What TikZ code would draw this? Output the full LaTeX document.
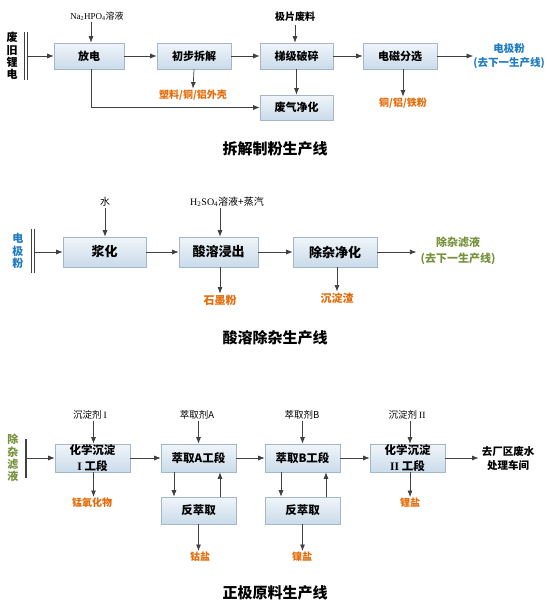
\documentclass[tikz,border=0pt]{standalone}
\usepackage{fontspec}
\setmainfont{Noto Sans CJK SC}
\newfontfamily\tms{Liberation Serif}
\usetikzlibrary{arrows.meta,shadows}
\definecolor{bord}{HTML}{A3B6CA}
\definecolor{topc}{HTML}{F0F5FA}
\definecolor{botc}{HTML}{CADBEA}
\definecolor{org}{HTML}{E46C0A}
\definecolor{blu}{HTML}{1F7CC1}
\definecolor{grn}{HTML}{76923C}
\definecolor{arc}{HTML}{404040}
\begin{document}
\begin{tikzpicture}[x=1pt,y=-1pt,
  box/.style={draw=bord, line width=0.6pt, top color=topc, bottom color=botc,
    inner sep=0pt, minimum height=26pt, align=center,
    font=\fontsize{11}{12}\selectfont\bfseries,
    drop shadow={shadow xshift=1.2pt, shadow yshift=-1.2pt, opacity=0.25, fill=black!60}},
  boxtwo/.style={box, minimum height=30pt, font=\fontsize{13}{14}\selectfont\bfseries},
  boxthree/.style={box, minimum width=75pt, minimum height=28pt, font=\fontsize{11.5}{15.5}\selectfont\bfseries},
  lbl/.style={inner sep=1pt, font=\fontsize{9}{10}\selectfont},
  lblb/.style={inner sep=1pt, font=\fontsize{10}{11}\selectfont\bfseries},
  prod/.style={inner sep=1pt, text=org, font=\fontsize{10}{11}\selectfont\bfseries},
  prodtwo/.style={prod, font=\fontsize{11}{12}\selectfont\bfseries},
  vtext/.style={inner sep=0pt, align=center, font=\fontsize{11}{12.3}\selectfont\bfseries},
  sidelbl/.style={inner sep=1pt, align=center, font=\fontsize{10.5}{14}\selectfont\bfseries},
  ttl/.style={inner sep=1pt, font=\fontsize{15}{16}\selectfont\bfseries},
  arr/.style={draw=arc, line width=0.7pt, -{Latex[length=6.5pt,width=5pt]}},
  bar/.style={draw=arc, line width=0.8pt}
]
\useasboundingbox[fill=white] (0,0) rectangle (547,606);

% ---------- Section 1 ----------
\node[vtext] (s1) at (12,56) {废\\旧\\锂\\电};
\draw[bar] (24,32) -- (24,80);
\draw[bar] (27,32) -- (27,80);
\coordinate (b1) at (27,56);

\node[box, minimum width=70pt] (fd) at (89,56) {放电};
\node[box, minimum width=74pt] (cb) at (194,56) {初步拆解};
\node[box, minimum width=73pt] (tj) at (296.5,56) {梯级破碎};
\node[box, minimum width=73pt, minimum height=25pt] (fq) at (296.5,107.5) {废气净化};
\node[box, minimum width=74pt] (dc) at (400,56) {电磁分选};

\node[lbl] (na) at (97,16) {{\tms Na\textsubscript{2}HPO\textsubscript{4}}溶液};
\node[lblb] (jp) at (295,17) {极片废料};
\node[prod] (sl) at (193,95) {塑料/铜/铝外壳};
\node[prod] (tl) at (403,103) {铜/铝/铁粉};
\node[sidelbl, text=blu] (djf) at (509,56) {电极粉\\(去下一生产线)};
\node[ttl] (t1) at (275,149) {拆解制粉生产线};

\draw[arr] (b1) -- (fd);
\draw[arr] ([xshift=2pt]fd.north |- na.south) -- ([xshift=2pt]fd.north);
\draw[arr] (fd) -- (cb);
\draw[arr] (cb) -- (tj);
\draw[arr] (tj) -- (dc);
\draw[arr] (tj.north -| jp) ++(0,-18) -- (tj.north -| jp);
\draw[arr] (cb.south) -- (sl.north);
\draw[arr] (tj.south) -- (fq.north);
\draw[arr] (dc.south -| tl) -- (tl.north);
\draw[arr] ([xshift=2pt]fd.south) |- (fq.west);
\draw[arr] (dc.east) -- ([xshift=1pt]dc.east -| djf.west);

% ---------- Section 2 ----------
\node[vtext, text=blu] (s2) at (18,251) {电\\极\\粉};
\draw[bar] (31,229) -- (31,273);
\draw[bar] (34,229) -- (34,273);
\coordinate (b2) at (34,252);

\node[boxtwo, minimum width=83pt] (jh) at (104.5,252) {浆化};
\node[boxtwo, minimum width=79pt] (sr) at (218.5,252) {酸溶浸出};
\node[boxtwo, minimum width=84pt] (cz) at (335,252) {除杂净化};

\node[lbl, font=\fontsize{10}{11}\selectfont] (water) at (105,202) {水};
\node[lbl, font=\fontsize{10}{11}\selectfont] (h2) at (227,202) {{\tms H\textsubscript{2}SO\textsubscript{4}}溶液+蒸汽};
\node[prodtwo] (sm) at (220,300) {石墨粉};
\node[prodtwo] (cdz) at (337,298) {沉淀渣};
\node[sidelbl, text=grn, font=\fontsize{11}{16}\selectfont\bfseries] (czl) at (458,251) {除杂滤液\\(去下一生产线)};
\node[ttl] (t2) at (275,338) {酸溶除杂生产线};

\draw[arr] (b2) -- (jh);
\draw[arr] (water.south) -- (water.south |- jh.north);
\draw[arr] ([xshift=1.5pt]sr.north |- h2.south) -- ([xshift=1.5pt]sr.north);
\draw[arr] (jh) -- (sr);
\draw[arr] (sr) -- (cz);
\draw[arr] (sr.south -| sm) -- (sm.north);
\draw[arr] (cz.south -| cdz) -- (cdz.north);
\draw[arr] (cz.east) -- ([xshift=-3pt]cz.east -| czl.west);

% ---------- Section 3 ----------
\node[vtext, text=grn] (s3) at (13,458) {除\\杂\\滤\\液};
\draw[draw=arc, line width=2.2pt] (26,439) -- (26,478);
\coordinate (b3) at (27,458);

\node[boxthree] (hx1) at (92.5,458) {化学沉淀\\{\tms I} 工段};
\node[boxthree] (exA) at (198.5,458) {萃取A工段};
\node[boxthree] (exB) at (302.5,458) {萃取B工段};
\node[boxthree] (hx2) at (407.5,458) {化学沉淀\\{\tms II} 工段};
\node[boxthree, minimum height=27pt] (reA) at (198.5,510.5) {反萃取};
\node[boxthree, minimum height=27pt] (reB) at (302.5,510.5) {反萃取};

\node[lbl, font=\fontsize{9.5}{10}\selectfont] (cd1) at (90,415) {沉淀剂 {\tms I}};
\node[lbl, font=\fontsize{9.5}{10}\selectfont] (cqA) at (197,415) {萃取剂A};
\node[lbl, font=\fontsize{9.5}{10}\selectfont] (cqB) at (302,415) {萃取剂B};
\node[lbl, font=\fontsize{9.5}{10}\selectfont] (cd2) at (407,415) {沉淀剂 {\tms II}};

\node[prod] (mn) at (92,503) {锰氧化物};
\node[prod] (co) at (200,557) {钴盐};
\node[prod] (ni) at (302,557) {镍盐};
\node[prod] (li) at (410,503) {锂盐};
\node[sidelbl] (fs) at (508,458) {去厂区废水\\处理车间};
\node[ttl] (t3) at (275,593) {正极原料生产线};

\draw[arr] (b3) -- (hx1);
\draw[arr] (hx1) -- (exA);
\draw[arr] (exA) -- (exB);
\draw[arr] (exB) -- (hx2);
\draw[arr] (hx2.east) -- ([xshift=-2pt]hx2.east -| fs.west);

\draw[arr] ([xshift=1pt]hx1.north |- cd1.south) -- ([xshift=1pt]hx1.north);
\draw[arr] (exA.north |- cqA.south) -- (exA.north);
\draw[arr] (exB.north |- cqB.south) -- (exB.north);
\draw[arr] ([xshift=2.5pt]hx2.north |- cd2.south) -- ([xshift=2.5pt]hx2.north);

\draw[arr] ([xshift=1pt]hx1.south) -- ([xshift=1pt]hx1.south |- mn.north);
\draw[arr] ([xshift=2.5pt]hx2.south) -- ([xshift=2.5pt]hx2.south |- li.north);

\draw[arr] ([xshift=-24.5pt]exA.south) -- ([xshift=-24.5pt]reA.north);
\draw[arr] ([xshift=21.5pt]reA.north) -- ([xshift=21.5pt]exA.south);
\draw[arr] ([xshift=-21.5pt]exB.south) -- ([xshift=-21.5pt]reB.north);
\draw[arr] ([xshift=23.5pt]reB.north) -- ([xshift=23.5pt]exB.south);

\draw[arr] (reA.south) -- (reA.south |- co.north);
\draw[arr] (reB.south) -- (reB.south |- ni.north);
\end{tikzpicture}
\end{document}
